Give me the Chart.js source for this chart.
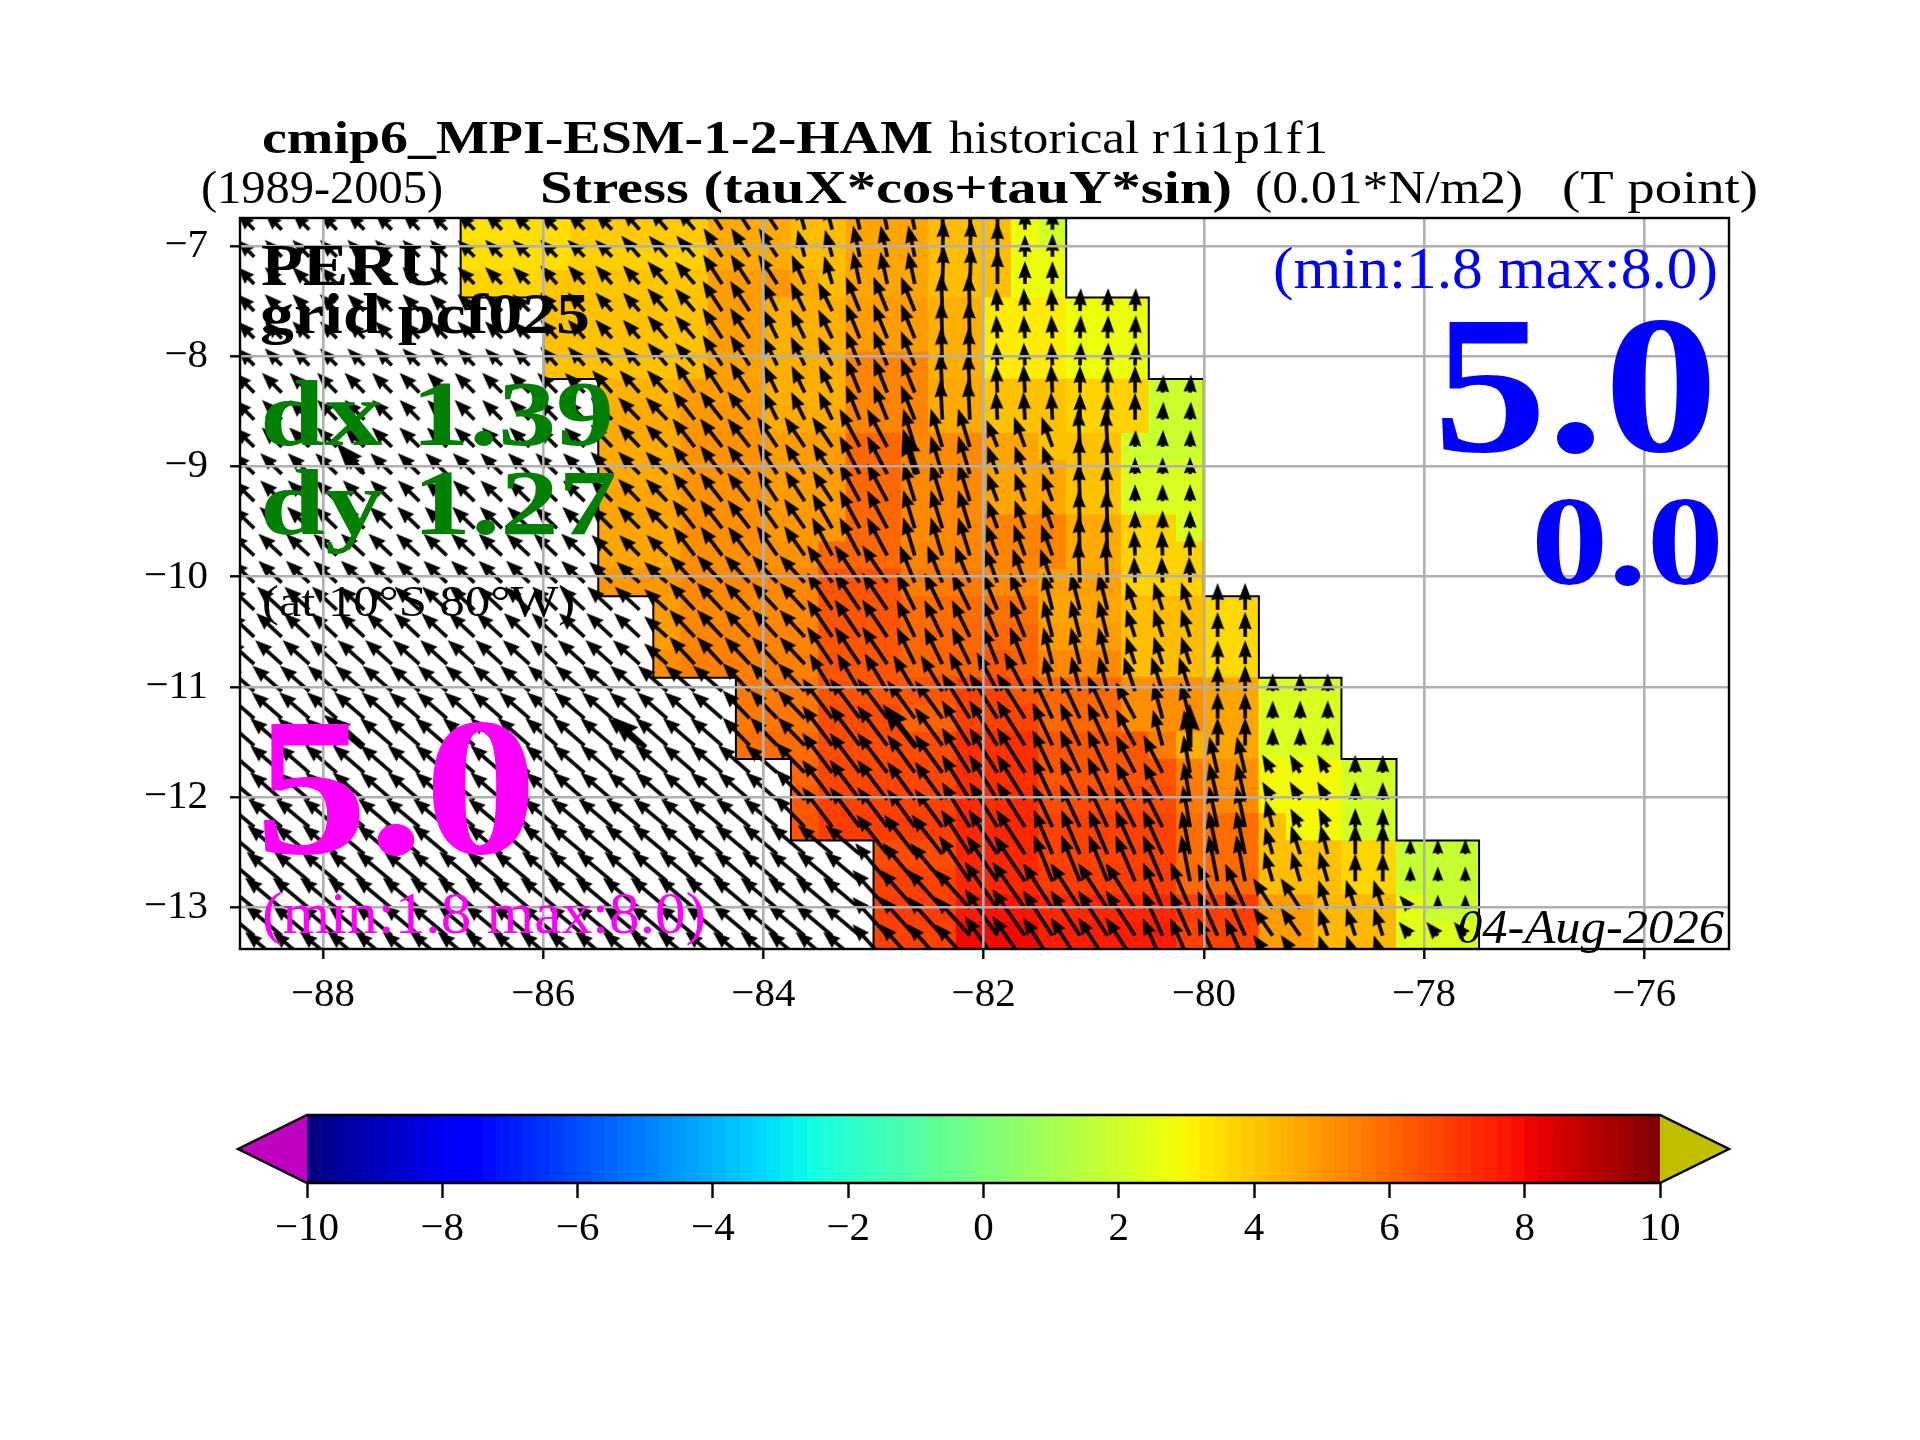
<!DOCTYPE html>
<html lang="en">
<head>
<meta charset="UTF-8">
<title>cmip6_MPI-ESM-1-2-HAM historical r1i1p1f1 - Stress</title>
<script src="https://cdn.jsdelivr.net/npm/chart.js@4"></script>
<style>
    html, body { margin: 0; padding: 0; background: #fff; }
    #page { position: relative; width: 1920px; height: 1440px; overflow: hidden; }
    canvas { position: absolute; left: 0; }
    #mapChart { top: 0; }
    #barChart { top: 1050px; }
</style>
</head>
<body>
<div id="page">
    <canvas id="mapChart" width="1920" height="1050"></canvas>
    <canvas id="barChart" width="1920" height="250"></canvas>
</div>
<script>
// ---- grid ----
const cellLons = [-88.75,-88.5,-88.25,-88,-87.75,-87.5,-87.25,-87,-86.75,-86.5,-86.25,-86,-85.75,-85.5,-85.25,-85,
    -84.75,-84.5,-84.25,-84,-83.75,-83.5,-83.25,-83,-82.75,-82.5,-82.25,-82,-81.75,-81.5,-81.25,-81,-80.75,-80.5,
    -80.25,-80,-79.75,-79.5,-79.25,-79,-78.75,-78.5,-78.25,-78,-77.75,-77.5];
const cellLats = [-6.725,-6.972,-7.218,-7.465,-7.711,-7.958,-8.204,-8.451,-8.697,-8.944,-9.19,-9.437,-9.683,-9.93,
    -10.176,-10.423,-10.669,-10.916,-11.162,-11.409,-11.655,-11.902,-12.148,-12.395,-12.641,-12.888,-13.134,-13.381];
const arrowLats = [-6.849,-7.095,-7.342,-7.588,-7.835,-8.081,-8.328,-8.574,-8.821,-9.067,-9.314,-9.56,-9.807,-10.053,
    -10.3,-10.546,-10.793,-11.039,-11.286,-11.532,-11.779,-12.025,-12.272,-12.518,-12.765,-13.011,-13.258,-13.504];

// first coloured column of each row, then runs of [count, value]
const cellStart = [8,8,8,11,11,11,13,13,13,13,13,13,13,13,15,15,15,18,18,18,20,20,20,23,23,23,23];
const cellRuns = [
    [1,3.4, 3,3.5, 5,3.9, 3,4.6, 2,4.2, 3,4.7, 3,4.2, 1,2.8, 1,2.0],
    [4,3.5, 5,3.8, 3,4.6, 2,4.2, 3,4.7, 3,4.2, 2,2.75],
    [3,3.7, 6,4.0, 2,4.9, 1,5.0, 1,4.6, 1,4.2, 3,4.7, 3,4.2, 2,2.75],
    [6,4.1, 2,4.9, 3,4.5, 3,4.9, 2,4.5, 3,3.2, 3,2.75],
    [6,4.1, 2,4.9, 3,4.5, 3,4.9, 2,4.5, 3,3.2, 3,2.75],
    [5,4.1, 1,4.2, 2,4.8, 3,4.5, 3,5.4, 2,4.5, 3,3.2, 3,2.75],
    [3,4.4, 3,4.9, 3,4.5, 3,5.4, 2,4.6, 3,4.1, 3,3.75, 2,1.9],
    [3,4.6, 3,5.0, 3,4.6, 3,5.4, 2,4.6, 3,4.1, 3,3.75, 2,1.9],
    [3,4.6, 3,5.1, 3,4.9, 2,6.0, 3,5.3, 2,4.7, 3,4.1, 1,2.0, 2,1.9],
    [3,4.6, 3,5.1, 3,4.9, 2,6.0, 3,5.3, 3,4.7, 2,4.1, 3,2.25],
    [3,4.7, 3,5.1, 3,4.9, 2,6.0, 3,5.3, 3,4.7, 2,4.1, 3,2.25],
    [3,4.7, 3,5.2, 3,5.0, 2,6.0, 3,5.3, 3,5.4, 2,4.6, 2,3.75, 1,2.25],
    [3,4.7, 3,5.2, 2,5.1, 3,6.0, 3,5.4, 3,5.4, 2,4.6, 3,3.75],
    [3,5.0, 3,5.3, 2,5.3, 3,6.4, 3,5.6, 2,5.3, 3,4.8, 3,3.75],
    [1,4.9, 3,5.3, 2,5.3, 3,6.4, 3,5.9, 2,5.8, 3,4.7, 3,4.2, 2,3.6],
    [1,4.9, 3,5.4, 2,5.4, 3,6.4, 3,6.0, 2,6.0, 3,4.9, 3,4.2, 2,3.6],
    [1,5.2, 3,5.5, 2,5.5, 3,6.4, 3,6.1, 1,6.4, 1,6.1, 3,5.3, 3,4.2, 2,3.6],
    [1,5.6, 2,5.6, 5,6.4, 2,6.8, 1,6.4, 3,6.0, 2,5.2, 1,5.1, 2,4.7, 3,2.25],
    [1,5.6, 2,5.7, 3,6.6, 2,6.1, 3,6.8, 3,6.0, 3,5.2, 2,4.7, 3,2.25],
    [1,5.8, 2,5.9, 5,6.6, 3,7.2, 4,6.4, 1,5.6, 1,4.5, 2,4.7, 3,2.25],
    [1,6.0, 5,6.7, 3,7.2, 5,6.4, 1,5.5, 2,5.2, 3,2.9, 2,2.1],
    [1,6.3, 5,6.8, 3,7.3, 5,6.6, 1,5.6, 2,5.3, 3,2.9, 2,2.1],
    [1,6.4, 5,6.9, 3,7.4, 5,6.8, 3,5.9, 1,4.1, 2,2.9, 2,2.1],
    [3,6.6, 3,7.4, 5,6.8, 3,5.9, 3,4.1, 2,3.7, 3,1.8],
    [3,6.8, 3,7.4, 5,6.9, 3,6.0, 3,4.2, 2,3.7, 3,1.8],
    [3,6.9, 1,7.7, 2,7.8, 5,7.4, 3,6.9, 2,4.9, 3,4.3, 1,2.5, 2,1.9],
    [3,6.8, 3,8.0, 5,7.6, 3,6.8, 2,4.9, 3,4.3, 3,2.4]
];

// wind arrows, one row per arrowLats: runs of [count, degrees west of north, magnitude]
const arrowRuns = [
    [14,45,2.4, 3,41,2.7, 3,33,3.3, 2,15,2.8, 3,12,3.2, 2,-2,3.7, 1,0,3.5, 1,0,2.2, 1,0,2.2],
    [14,45,2.4, 3,41,2.8, 3,33,3.4, 2,15,2.8, 3,12,3.2, 2,-2,3.7, 1,0,3.5, 1,0,2.2, 1,0,2.3],
    [11,45,2.4, 4,42,2.5, 2,41,3.0, 3,33,3.5, 1,24,3.2, 1,16,2.9, 3,12,3.3, 2,-2,3.8, 1,0,3.4, 1,0,2.3, 1,0,2.3],
    [11,45,2.4, 4,42,2.5, 2,41,3.0, 2,33,3.6, 3,26,3.2, 3,22,3.7, 2,2,3.7, 3,3,2.3, 3,-2,2.3],
    [11,45,2.4, 4,42,2.5, 2,41,3.0, 2,33,3.6, 3,26,3.2, 3,22,3.7, 2,2,3.7, 3,3,2.3, 3,-2,2.3],
    [11,45,2.4, 4,42,2.5, 2,41,3.0, 2,33,3.6, 3,26,3.2, 3,22,3.7, 2,2,3.8, 3,3,2.3, 3,-2,2.3],
    [13,45,2.8, 3,42,3.0, 3,33,3.6, 3,26,3.0, 3,22,3.7, 2,3,4.0, 3,3,2.8, 3,0,2.7, 2,-3,1.8],
    [13,45,2.8, 3,44,3.1, 3,38,3.6, 3,26,3.1, 3,22,3.7, 2,3,4.0, 3,3,2.8, 3,0,2.7, 2,-3,1.8],
    [13,46,2.8, 3,44,3.1, 3,38,3.6, 3,34,3.6, 2,28,4.3, 3,17,4.0, 1,22,2.9, 2,20,3.2, 2,3,3.8, 3,-2,1.7],
    [13,46,3.0, 3,44,3.1, 3,38,3.6, 3,33,3.6, 2,28,4.3, 3,17,4.0, 3,20,3.0, 2,2,3.8, 3,0,1.7],
    [13,46,3.0, 3,44,3.1, 3,38,3.6, 3,33,3.6, 2,28,4.3, 3,17,4.0, 3,20,3.0, 2,2,3.8, 3,0,1.7],
    [13,46,3.1, 3,45,3.1, 3,38,3.6, 2,35,3.6, 1,30,4.0, 2,28,4.3, 3,17,4.0, 3,20,3.0, 2,2,3.8, 3,0,1.8],
    [13,47,3.2, 3,45,2.9, 3,37,3.6, 2,35,3.6, 3,28,4.3, 3,17,4.0, 3,20,3.3, 2,2,4.0, 3,2,2.5],
    [13,47,3.2, 3,48,3.1, 3,43,3.7, 2,43,3.7, 3,34,4.5, 3,22,4.0, 3,20,3.6, 2,3,4.2, 3,2,2.6],
    [15,47,3.4, 1,48,3.1, 5,43,3.7, 3,34,4.5, 3,26,4.1, 2,22,4.0, 3,14,3.8, 3,18,2.9, 2,0,2.7],
    [15,47,3.5, 1,48,3.1, 5,43,3.7, 3,34,4.5, 3,26,4.1, 2,22,4.0, 3,14,3.8, 3,18,2.9, 2,0,2.5],
    [15,48,3.6, 1,48,3.1, 5,43,3.7, 3,34,4.5, 3,26,4.1, 2,22,4.0, 3,14,3.8, 3,18,2.9, 2,0,2.4],
    [18,49,3.9, 3,44,3.9, 3,31,4.4, 2,31,4.2, 3,28,4.4, 3,14,3.6, 3,18,3.6, 2,0,2.6, 3,0,1.8],
    [18,49,4.0, 3,44,3.9, 3,37,5.0, 2,36,4.7, 3,32,5.3, 3,25,4.7, 1,28,4.1, 2,15,3.7, 2,0,2.6, 3,0,1.8],
    [18,49,4.2, 3,44,3.9, 3,37,5.0, 2,36,4.7, 3,32,5.3, 3,25,4.7, 1,28,4.1, 1,15,3.7, 1,10,3.6, 2,0,2.8, 3,0,1.8],
    [20,49,4.2, 1,44,4.2, 3,37,5.0, 2,36,4.7, 3,32,5.3, 3,25,4.7, 2,27,4.2, 1,10,3.8, 2,13,3.7, 3,30,2.1, 2,0,1.8],
    [20,49,4.2, 1,44,4.2, 3,37,5.0, 2,36,4.7, 3,32,5.3, 3,25,4.7, 2,27,4.2, 1,10,3.8, 2,13,3.8, 3,30,2.1, 2,0,1.8],
    [20,50,4.4, 1,44,4.4, 3,37,5.0, 2,36,4.7, 3,32,5.3, 3,25,4.7, 2,27,4.6, 1,10,4.2, 2,12,4.2, 1,15,2.8, 1,28,2.1, 1,26,2.1, 2,0,1.9],
    [23,50,4.5, 3,38,5.0, 3,33,5.3, 3,23,4.8, 2,24,4.8, 1,11,4.4, 2,12,4.4, 1,16,2.8, 1,18,3.0, 1,14,3.0, 2,0,3.0, 3,0,1.5],
    [23,50,4.6, 3,40,5.0, 3,34,5.5, 3,22,5.0, 2,23,5.0, 3,11,4.7, 3,16,3.1, 2,0,2.8, 3,0,1.5],
    [23,50,4.8, 4,42,5.2, 2,35,5.7, 4,33,5.4, 2,23,5.0, 2,24,4.9, 2,33,3.6, 3,18,3.0, 1,40,1.7, 2,0,1.4],
    [23,50,4.8, 4,42,5.2, 2,35,5.7, 4,33,5.4, 4,24,4.9, 2,35,3.4, 3,18,2.9, 3,40,1.8],
    [23,50,4.8, 4,42,5.2, 2,35,5.7, 4,33,5.4, 4,24,4.9, 2,35,3.4, 3,18,2.9, 3,40,1.8]
];
const bigArrowLons = [-87.64,-82.6,-87.64,-85.07,-82.61,-80.13];
const bigArrowLats = [-9.05,-9.07,-11.55,-11.55,-11.55,-11.55];
const bigArrowAngles = [42,18,50,48,38,0];
const bigArrowMags = [3.4,4.2,4.4,4.0,4.8,3.8];

// mask outline
const westEdgeLons = [-86.75,-86.75,-86,-86,-85.5,-85.5,-85,-85,-84.25,-84.25,-83.75,-83.75,-83,-83];
const westEdgeLats = [-6.7,-7.465,-7.465,-8.204,-8.204,-10.176,-10.176,-10.916,-10.916,-11.655,-11.655,-12.395,-12.395,-13.39];
const eastEdgeLons = [-81.25,-81.25,-80.5,-80.5,-80,-80,-79.5,-79.5,-78.75,-78.75,-78.25,-78.25,-77.5,-77.5];
const eastEdgeLats = [-6.7,-7.465,-7.465,-8.204,-8.204,-10.176,-10.176,-10.916,-10.916,-11.655,-11.655,-12.395,-12.395,-13.39];

const lonTicks = [-88,-86,-84,-82,-80,-78,-76];
const latTicks = [-13,-12,-11,-10,-9,-8,-7];
const barTicks = [-10,-8,-6,-4,-2,0,2,4,6,8,10];
const barLevels = [-9.9,-9.7,-9.5,-9.3,-9.1,-8.9,-8.7,-8.5,-8.3,-8.1,-7.9,-7.7,-7.5,-7.3,-7.1,-6.9,-6.7,-6.5,-6.3,-6.1,
    -5.9,-5.7,-5.5,-5.3,-5.1,-4.9,-4.7,-4.5,-4.3,-4.1,-3.9,-3.7,-3.5,-3.3,-3.1,-2.9,-2.7,-2.5,-2.3,-2.1,
    -1.9,-1.7,-1.5,-1.3,-1.1,-0.9,-0.7,-0.5,-0.3,-0.1,0.1,0.3,0.5,0.7,0.9,1.1,1.3,1.5,1.7,1.9,
    2.1,2.3,2.5,2.7,2.9,3.1,3.3,3.5,3.7,3.9,4.1,4.3,4.5,4.7,4.9,5.1,5.3,5.5,5.7,5.9,
    6.1,6.3,6.5,6.7,6.9,7.1,7.3,7.5,7.7,7.9,8.1,8.3,8.5,8.7,8.9,9.1,9.3,9.5,9.7,9.9];

// text: string, font, colour, x, baseline, width on the page
const SERIF = '"Liberation Serif"';
const mapTexts = [
    ['cmip6_MPI-ESM-1-2-HAM', 'bold 46px ' + SERIF, '#000', 262, 153, 671],
    ['historical r1i1p1f1', '46px ' + SERIF, '#000', 949, 153, 379],
    ['(1989-2005)', '46px ' + SERIF, '#000', 201, 203, 242],
    ['Stress (tauX*cos+tauY*sin)', 'bold 46px ' + SERIF, '#000', 540, 203, 692],
    ['(0.01*N/m2)', '46px ' + SERIF, '#000', 1255, 203, 268],
    ['(T point)', '46px ' + SERIF, '#000', 1562, 203, 196],
    ['PERU', 'bold 60px ' + SERIF, '#000', 261, 285, 186],
    ['grid pcf025', 'bold 58px ' + SERIF, '#000', 260, 333, 330],
    ['dx 1.39', 'bold 94px ' + SERIF, '#008000', 260, 445, 354],
    ['dy 1.27', 'bold 94px ' + SERIF, '#008000', 260, 534, 357],
    ['(at 10\u00b0S 80\u00b0W)', '44px ' + SERIF, '#000', 262, 616, 313],
    ['5.0', 'bold 197px ' + SERIF, '#ff00ff', 255, 853, 282],
    ['(min:1.8 max:8.0)', '60px ' + SERIF, '#ff00ff', 262, 933, 444],
    ['(min:1.8 max:8.0)', '60px ' + SERIF, '#0000ff', 1273, 288, 445],
    ['5.0', 'bold 197px ' + SERIF, '#0000ff', 1433, 451, 285],
    ['0.0', 'bold 128px ' + SERIF, '#0000ff', 1531, 584, 193],
    ['04-Aug-2026', 'italic 48px ' + SERIF, '#000', 1457, 943, 267]
];

// ---- helpers ----
const jetRed = [[0,0],[.35,0],[.66,1],[.89,1],[1,.5]];
const jetGreen = [[0,0],[.125,0],[.375,1],[.64,1],[.91,0],[1,0]];
const jetBlue = [[0,.5],[.11,1],[.34,1],[.65,0],[1,0]];

function segment(stops, t) {
    for (let i = 1; i < stops.length; i++) {
        if (t <= stops[i][0]) {
            const a = stops[i - 1], b = stops[i];
            return a[1] + (b[1] - a[1]) * (t - a[0]) / (b[0] - a[0]);
        }
    }
    return stops[stops.length - 1][1];
}

function jet(value) {
    const t = (value + 10) / 20;
    const c = [jetRed, jetGreen, jetBlue].map(s => Math.round(255 * segment(s, t)));
    return 'rgb(' + c.join(',') + ')';
}

const minus = v => String(v).replace('-', '\u2212');

// arrow sprite: tail at the centre of the canvas, tip pointing up
const sprites = {};
function arrowSprite(length, w) {
    const key = length + '/' + w;
    if (sprites[key]) return sprites[key];
    const size = Math.ceil(2 * length + 12);
    const c = document.createElement('canvas');
    c.width = c.height = size;
    const g = c.getContext('2d');
    const head = 5 * w;
    const k = length < head ? length / head : 1;
    const halfShaft = w * k / 2, halfHead = 1.85 * w * k, back = 4.5 * w * k;
    const tip = head * k;
    g.translate(size / 2, size / 2);
    g.fillStyle = '#000';
    g.beginPath();
    g.moveTo(-halfShaft, 0);
    g.lineTo(-halfShaft, -length + back);
    g.lineTo(-halfHead, -length + tip - 0.4);
    g.lineTo(0, -length);
    g.lineTo(halfHead, -length + tip - 0.4);
    g.lineTo(halfShaft, -length + back);
    g.lineTo(halfShaft, 0);
    g.closePath();
    g.fill();
    sprites[key] = c;
    return c;
}

function cellBars() {
    const bars = [];
    cellRuns.forEach((runs, r) => {
        let col = cellStart[r];
        for (let i = 0; i < runs.length; i += 2) {
            for (let n = 0; n < runs[i]; n++, col++) {
                bars.push({ x: (cellLons[col] + cellLons[col + 1]) / 2, y: [cellLats[r + 1], cellLats[r]], value: runs[i + 1] });
            }
        }
    });
    return bars;
}

function arrowPoints() {
    const points = [];
    arrowRuns.forEach((runs, r) => {
        let col = 0;
        for (let i = 0; i < runs.length; i += 3) {
            for (let n = 0; n < runs[i]; n++, col++) {
                points.push({ x: (cellLons[col] + cellLons[col + 1]) / 2, y: arrowLats[r], angle: runs[i + 1], mag: runs[i + 2] });
            }
        }
    });
    return points;
}

const ARROW_PX = 10;
const TICK_FONT = { family: 'Liberation Serif', size: 41 };

const mapOverlay = {
    id: 'mapOverlay',
    afterDraw(chart) {
        const ctx = chart.ctx, a = chart.chartArea;
        ctx.save();
        ctx.strokeStyle = '#000';
        ctx.lineWidth = 2.4;
        ctx.strokeRect(a.left, a.top, a.right - a.left, a.bottom - a.top);
        ctx.textBaseline = 'alphabetic';
        ctx.textAlign = 'left';
        mapTexts.forEach(t => {
            ctx.font = t[1];
            ctx.fillStyle = t[2];
            const w = ctx.measureText(t[0]).width;
            ctx.save();
            ctx.translate(t[3], t[4]);
            ctx.scale(t[5] / w, 1);
            ctx.fillText(t[0], 0, 0);
            ctx.restore();
        });
        ctx.restore();
    }
};

const cells = cellBars();
const arrows = arrowPoints();
const bigArrows = bigArrowLons.map((lon, i) => ({ x: lon, y: bigArrowLats[i], angle: bigArrowAngles[i], mag: bigArrowMags[i] }));

new Chart(document.getElementById('mapChart'), {
    type: 'bar',
    data: {
        datasets: [
            {
                label: 'Stress', data: cells, order: 3, grouped: false,
                barPercentage: 1, categoryPercentage: 1, borderWidth: 0,
                backgroundColor: c => jet(c.raw.value)
            },
            {
                type: 'scatter', label: 'west edge', order: 2, showLine: true, pointRadius: 0,
                borderColor: '#000', borderWidth: 2,
                data: westEdgeLons.map((x, i) => ({ x: x, y: westEdgeLats[i] }))
            },
            {
                type: 'scatter', label: 'east edge', order: 2, showLine: true, pointRadius: 0,
                borderColor: '#000', borderWidth: 2,
                data: eastEdgeLons.map((x, i) => ({ x: x, y: eastEdgeLats[i] }))
            },
            {
                type: 'scatter', label: 'wind', order: 1, data: arrows, pointRadius: 60,
                pointStyle: c => arrowSprite(Math.round(c.raw.mag * ARROW_PX), 3.6),
                pointRotation: c => -c.raw.angle
            },
            {
                type: 'scatter', label: 'wind reference', order: 0, data: bigArrows, pointRadius: 60,
                pointStyle: c => arrowSprite(Math.round(c.raw.mag * ARROW_PX * 1.15), 5.5),
                pointRotation: c => -c.raw.angle
            }
        ]
    },
    plugins: [mapOverlay],
    options: {
        responsive: false,
        animation: false,
        events: [],
        layout: { padding: { top: 218, right: 191 } },
        plugins: { legend: { display: false }, tooltip: { enabled: false }, title: { display: false } },
        scales: {
            x: {
                type: 'linear', offset: false, min: -88.754, max: -75.23,
                afterFit: s => { s.height = 101; },
                afterBuildTicks: s => { s.ticks = lonTicks.map(v => ({ value: v })); },
                grid: { offset: false, z: 1, color: '#b0b0b0', lineWidth: 2.6, tickColor: '#000', tickWidth: 2.4, tickLength: 10 },
                border: { display: false },
                ticks: { font: TICK_FONT, color: '#000', padding: 12, maxRotation: 0, autoSkip: false, callback: minus }
            },
            y: {
                type: 'linear', min: -13.379, max: -6.743,
                afterFit: s => { s.width = 240; },
                afterBuildTicks: s => { s.ticks = latTicks.map(v => ({ value: v })); },
                grid: { z: 1, color: '#b0b0b0', lineWidth: 2.6, tickColor: '#000', tickWidth: 2.4, tickLength: 10 },
                border: { display: false },
                ticks: { font: TICK_FONT, color: '#000', padding: 22, autoSkip: false, callback: minus }
            }
        }
    }
});

// ---- colour bar ----
const barOverlay = {
    id: 'barOverlay',
    afterDraw(chart) {
        const ctx = chart.ctx, a = chart.chartArea;
        const mid = (a.top + a.bottom) / 2, reach = 69;
        ctx.save();
        ctx.lineWidth = 2.4;
        ctx.strokeStyle = '#000';
        ctx.lineJoin = 'miter';
        ctx.fillStyle = 'rgb(191,0,191)';
        ctx.beginPath();
        ctx.moveTo(a.left, a.top);
        ctx.lineTo(a.left - reach, mid);
        ctx.lineTo(a.left, a.bottom);
        ctx.closePath();
        ctx.fill();
        ctx.fillStyle = 'rgb(191,191,0)';
        ctx.beginPath();
        ctx.moveTo(a.right, a.top);
        ctx.lineTo(a.right + reach, mid);
        ctx.lineTo(a.right, a.bottom);
        ctx.closePath();
        ctx.fill();
        ctx.beginPath();
        ctx.moveTo(a.left, a.top);
        ctx.lineTo(a.right, a.top);
        ctx.lineTo(a.right + reach, mid);
        ctx.lineTo(a.right, a.bottom);
        ctx.lineTo(a.left, a.bottom);
        ctx.lineTo(a.left - reach, mid);
        ctx.closePath();
        ctx.stroke();
        ctx.restore();
    }
};

new Chart(document.getElementById('barChart'), {
    type: 'bar',
    data: {
        datasets: [{
            label: 'colour scale', grouped: false, barPercentage: 1, categoryPercentage: 1, borderWidth: 0,
            data: barLevels.map(v => ({ x: v, y: [0, 1] })),
            backgroundColor: barLevels.map(jet)
        }]
    },
    plugins: [barOverlay],
    options: {
        responsive: false,
        animation: false,
        events: [],
        layout: { padding: { top: 65, left: 307, right: 260 } },
        plugins: { legend: { display: false }, tooltip: { enabled: false } },
        scales: {
            x: {
                type: 'linear', offset: false, min: -10, max: 10,
                afterFit: s => { s.height = 117; },
                afterBuildTicks: s => { s.ticks = barTicks.map(v => ({ value: v })); },
                grid: { offset: false, drawOnChartArea: false, tickColor: '#000', tickWidth: 2.4, tickLength: 15 },
                border: { display: false },
                ticks: { font: TICK_FONT, color: '#000', padding: 7, maxRotation: 0, autoSkip: false, callback: minus }
            },
            y: { type: 'linear', display: false, min: 0, max: 1 }
        }
    }
});
</script>
</body>
</html>
